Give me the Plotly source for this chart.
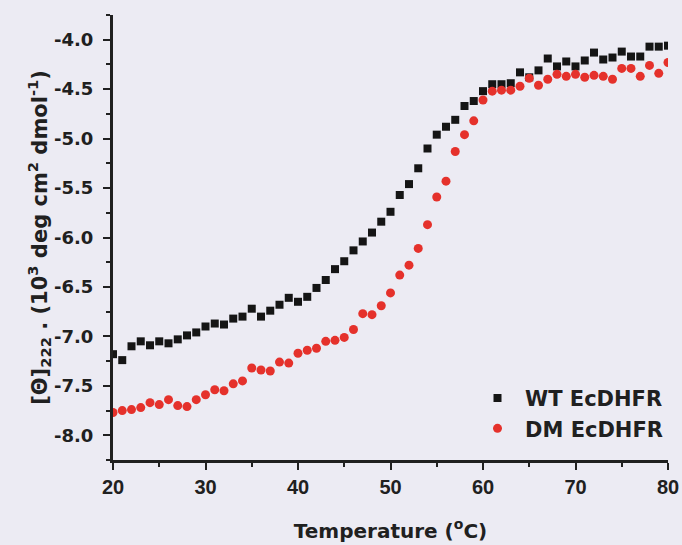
""" CD thermal melt of WT and DM EcDHFR (ellipticity at 222 nm)
"""
import plotly.graph_objects as go

# temperature, 20-80 C in 1 degree steps
temperature = list(range(20, 81))

# [Theta]222 for WT EcDHFR (10^3 deg cm2 dmol-1)
wt_theta = [
    -7.18, -7.24, -7.10, -7.05, -7.09, -7.05, -7.07, -7.03, -6.99, -6.96,
    -6.90, -6.87, -6.88, -6.82, -6.80, -6.72, -6.80, -6.74, -6.68, -6.61,
    -6.65, -6.60, -6.51, -6.43, -6.32, -6.24, -6.13, -6.04, -5.95, -5.84,
    -5.74, -5.57, -5.46, -5.30, -5.10, -4.96, -4.88, -4.81, -4.67, -4.62,
    -4.52, -4.45, -4.45, -4.44, -4.33, -4.38, -4.31, -4.19, -4.27, -4.22,
    -4.27, -4.21, -4.13, -4.20, -4.18, -4.12, -4.17, -4.17, -4.07, -4.07,
    -4.06,
]

# [Theta]222 for DM EcDHFR
dm_theta = [
    -7.77, -7.75, -7.74, -7.72, -7.67, -7.69, -7.64, -7.70, -7.71, -7.64,
    -7.59, -7.54, -7.55, -7.48, -7.45, -7.32, -7.34, -7.35, -7.26, -7.27,
    -7.17, -7.14, -7.12, -7.05, -7.04, -7.01, -6.93, -6.77, -6.78, -6.69,
    -6.56, -6.38, -6.28, -6.11, -5.87, -5.59, -5.43, -5.13, -4.96, -4.82,
    -4.61, -4.52, -4.51, -4.51, -4.47, -4.39, -4.46, -4.40, -4.35, -4.37,
    -4.35, -4.38, -4.36, -4.37, -4.40, -4.29, -4.29, -4.37, -4.26, -4.34,
    -4.23,
]

# axis ticks
y_ticks = [-8.0, -7.5, -7.0, -6.5, -6.0, -5.5, -5.0, -4.5, -4.0]
y_tick_labels = ['-8.0', '-7.5', '-7.0', '-6.5', '-6.0', '-5.5', '-5.0', '-4.5', '-4.0']
y_minor = [-8.25, -7.75, -7.25, -6.75, -6.25, -5.75, -5.25, -4.75, -4.25, -3.75]

BG = '#ecebf3'
INK = '#202020'
NARROW = 'Liberation Sans'
WIDE = 'DejaVu Sans'


def main():
    """ build the figure
    """
    fig = go.Figure()

    fig.add_trace(go.Scatter(
        x=temperature, y=wt_theta, mode='markers', name='WT EcDHFR',
        legendgroup='wt',
        marker=dict(symbol='square', size=8, color='#151515'),
    ))
    fig.add_trace(go.Scatter(
        x=temperature, y=dm_theta, mode='markers', name='DM EcDHFR',
        legendgroup='dm',
        marker=dict(symbol='circle', size=9, color='#e5312b'),
    ))

    axis_common = dict(
        showline=True, linecolor=INK, linewidth=3, mirror=False,
        showgrid=False, zeroline=False, automargin=False,
        ticks='outside', ticklen=7, tickwidth=2, tickcolor=INK,
    )

    fig.update_layout(
        width=682, height=545,
        margin=dict(l=113, r=14, t=15, b=85),
        paper_bgcolor=BG, plot_bgcolor=BG,
        font=dict(family=NARROW, color=INK),
        showlegend=True,
        legend=dict(
            x=1.0, xanchor='right', y=0.025, yanchor='bottom',
            bgcolor='rgba(0,0,0,0)', tracegroupgap=0, itemwidth=45,
            font=dict(family=WIDE, size=21, color=INK, weight='bold'),
        ),
        xaxis=dict(
            range=[20, 80], tickmode='linear', tick0=20, dtick=10,
            tickfont=dict(family=NARROW, size=20, color=INK, weight='bold'),
            minor=dict(ticks='outside', ticklen=4, tickwidth=2,
                       tickcolor=INK, tick0=25, dtick=10),
            title=dict(text='Temperature (<sup>o</sup>C)', standoff=27,
                       font=dict(family=WIDE, size=20, color=INK, weight='bold')),
            **axis_common,
        ),
        yaxis=dict(
            range=[-8.25, -3.75], tickmode='array',
            tickvals=y_ticks, ticktext=y_tick_labels, ticklabelstandoff=6,
            tickfont=dict(family=WIDE, size=18, color=INK, weight='bold'),
            minor=dict(ticks='outside', ticklen=4, tickwidth=2,
                       tickcolor=INK, tickmode='array', tickvals=y_minor),
            title=dict(
                text='[\u0398]<sub>222</sub> . (10<sup>3</sup> deg cm<sup>2</sup> dmol<sup>-1</sup>)',
                standoff=0,
                font=dict(family=WIDE, size=21, color=INK, weight='bold')),
            **axis_common,
        ),
    )

    # page body has a default 8px margin; drop it so the figure fills the window
    fig.write_html(
        'out.html',
        config={'displayModeBar': False},
        post_script="document.body.style.margin='0';"
                    "document.body.style.background='%s';" % BG,
    )


if __name__ == '__main__':
    main()
